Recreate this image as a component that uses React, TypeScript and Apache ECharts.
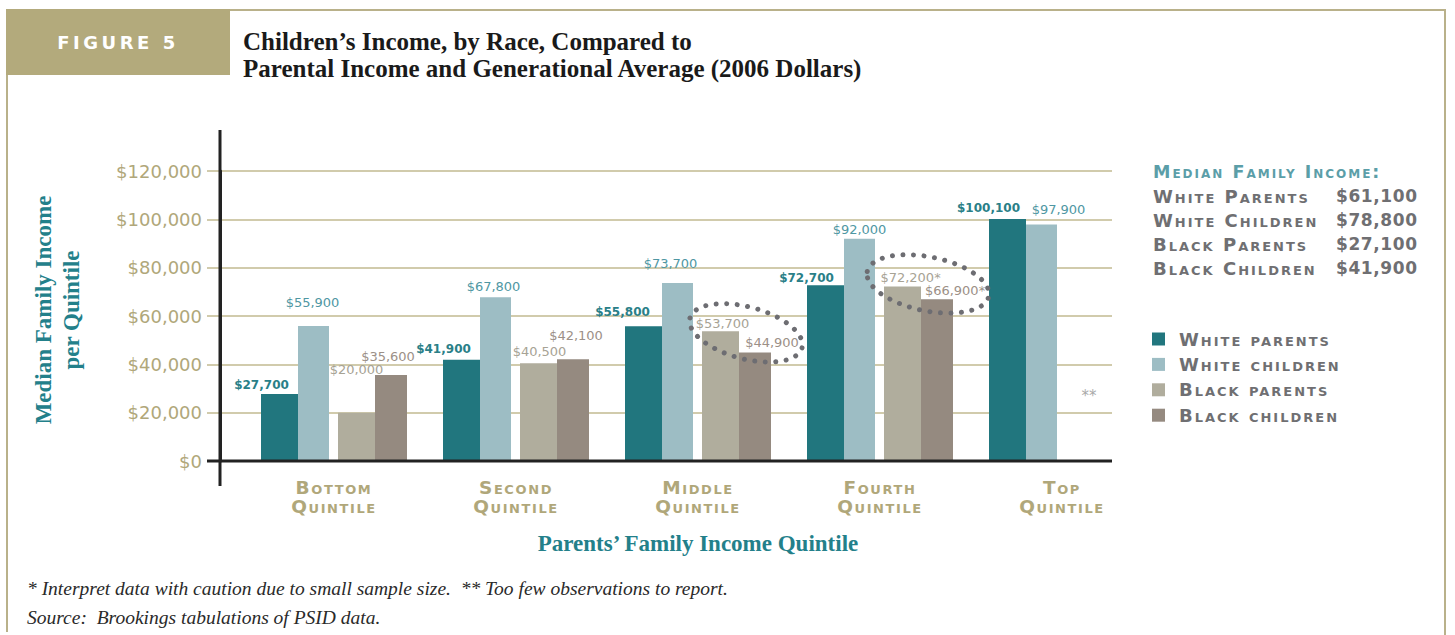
import React, { useEffect, useRef } from "react";
import * as echarts from "echarts";

// ---------- data ----------
const categories = ["Bottom\nQuintile", "Second\nQuintile", "Middle\nQuintile", "Fourth\nQuintile", "Top\nQuintile"];
const seriesNames = ["White parents", "White children", "Black parents", "Black children"];
const whiteParents = [27700, 41900, 55800, 72700, 100100];
const whiteChildren = [55900, 67800, 73700, 92000, 97900];
const blackParents = [20000, 40500, 53700, 72200, null];
const blackChildren = [35600, 42100, 44900, 66900, null];
const smallSample = [false, false, false, true, false];
const tooFew = [false, false, false, false, true];
const medianGroups = ["White Parents", "White Children", "Black Parents", "Black Children"];
const medianValues = [61100, 78800, 27100, 41900];
const yMin = 0;
const yMax = 120000;
const yStep = 20000;

// ---------- styling ----------
const C_WP = "#21767e";
const C_WC = "#9dbdc4";
const C_BP = "#b0ad9d";
const C_BC = "#958a80";
const TAN = "#b0a77a";
const GRIDC = "#c2ba90";
const FRAME = "#b9b18a";
const TEAL_T = "#23808a";
const GRAY_T = "#6f6f72";

// label offsets [dx, dy] per bar (hand-placed labels in the original)
const wpOff = [[-18, 2], [-18, 0], [-21, -3], [-19, 4], [-19, 0]];
const wcOff = [[-1, -12], [-2, 1], [-7, -8], [0, 2], [17, -3]];
const bpOff = [[0, -32], [1, 0], [2, 4], [8, 2], [0, 0]];
const bcOff = [[-3, -7], [3, -12], [17, 2], [18, 3], [0, 0]];

const fmt = (v: number) => "$" + String(v).replace(/\B(?=(\d{3})+(?!\d))/g, ",");
const sc = (size: number, weight: string, ls: number) =>
  `small-caps ${weight} ${size}px 'DejaVu Sans';letter-spacing:${ls}px`;

export default function App() {
  const ref = useRef<HTMLDivElement>(null);
  useEffect(() => {
    const chart = echarts.init(ref.current!, null, { renderer: "svg" });

    const mk = (
      name: string,
      values: (number | null)[],
      color: string,
      width: number,
      offs: number[][],
      labelColor: string,
      bold: boolean,
      flags?: boolean[]
    ) => ({
      name,
      type: "bar",
      xAxisIndex: 1,
      yAxisIndex: 1,
      barWidth: width,
      barGap: "0%",
      itemStyle: { color },
      data: values.map((v, i) => (v == null ? null : { value: v, label: { offset: offs[i] } })),
      label: {
        show: true,
        position: "top",
        distance: 5,
        color: labelColor,
        fontFamily: "DejaVu Sans",
        fontSize: bold ? 12 : 13,
        fontWeight: bold ? "bold" : "normal",
        formatter: (p: any) => fmt(p.value) + (flags && flags[p.dataIndex] ? "*" : ""),
      },
    });

    const footStyle = { fontFamily: "Liberation Serif", fontStyle: "italic", fontWeight: "normal", fontSize: 19.5, color: "#2a2a2a" };

    const option: any = {
      animation: false,
      backgroundColor: "#ffffff",
      title: [
        {
          text: "Children\u2019s Income, by Race, Compared to\nParental Income and Generational Average (2006 Dollars)",
          left: 243,
          top: 28,
          padding: 0,
          textStyle: { fontFamily: "Liberation Serif", fontWeight: "bold", fontSize: 25, lineHeight: 27, color: "#1a1a1a" },
        },
        {
          text: "* Interpret data with caution due to small sample size.  ** Too few observations to report.",
          left: 27,
          top: 578,
          padding: 0,
          textStyle: footStyle,
        },
        {
          text: "Source:  Brookings tabulations of PSID data.",
          left: 27,
          top: 607,
          padding: 0,
          textStyle: footStyle,
        },
      ],
      grid: [
        { left: 220, top: 171, width: 892, height: 290 },
        { left: 243, top: 171, width: 910, height: 290 },
      ],
      xAxis: [
        { type: "value", gridIndex: 0, min: 0, max: 1, show: false },
        {
          type: "category",
          gridIndex: 1,
          data: categories,
          axisLine: { show: false },
          axisTick: { show: false },
          axisLabel: { show: false },
          name: "Parents\u2019 Family Income Quintile",
          nameLocation: "middle",
          nameGap: 71,
          nameTextStyle: { fontFamily: "Liberation Serif", fontWeight: "bold", fontSize: 23, color: TEAL_T },
        },
      ],
      yAxis: [
        {
          type: "value",
          gridIndex: 0,
          min: yMin,
          max: yMax,
          interval: yStep,
          axisLine: { show: true, lineStyle: { color: "#222", width: 3 } },
          axisTick: { show: true, length: 13, lineStyle: { color: GRIDC, width: 1.5 } },
          splitLine: { show: true, lineStyle: { color: GRIDC, width: 1.5 } },
          axisLabel: { color: TAN, fontFamily: "DejaVu Sans", fontSize: 18, margin: 18, formatter: (v: number) => fmt(v) },
          name: "Median Family Income\nper Quintile",
          nameLocation: "middle",
          nameRotate: 90,
          nameGap: 135,
          nameTextStyle: { fontFamily: "Liberation Serif", fontWeight: "bold", fontSize: 23, lineHeight: 28, color: TEAL_T, padding: [0, 0, 0, 12] },
        },
        { type: "value", gridIndex: 1, min: yMin, max: yMax, interval: yStep, show: false },
      ],
      series: [
        mk(seriesNames[0], whiteParents, C_WP, 37, wpOff, "#2a7f88", true),
        mk(seriesNames[1], whiteChildren, C_WC, 31, wcOff, "#4f97a3", false),
        { name: "gap", type: "bar", xAxisIndex: 1, yAxisIndex: 1, barWidth: 9, barGap: "0%", data: [], silent: true },
        mk(seriesNames[2], blackParents, C_BP, 37, bpOff, "#a7a395", false, smallSample),
        mk(seriesNames[3], blackChildren, C_BC, 32, bcOff, "#9c9087", false, smallSample),
      ],
    };
    chart.setOption(option);

    const pt = (i: number, v: number) => chart.convertToPixel({ gridIndex: 1 }, [i, v]) as number[];
    const g: any[] = [];

    // frame
    g.push({ type: "rect", shape: { x: 6, y: 9, width: 224, height: 66 }, style: { fill: "#b3aa7c" }, z: 5 });
    g.push({ type: "line", shape: { x1: 230, y1: 10, x2: 1446, y2: 10 }, style: { stroke: FRAME, lineWidth: 2 }, z: 5 });
    g.push({ type: "line", shape: { x1: 1445, y1: 9, x2: 1445, y2: 635 }, style: { stroke: FRAME, lineWidth: 2 }, z: 5 });
    g.push({ type: "line", shape: { x1: 7, y1: 75, x2: 7, y2: 632 }, style: { stroke: FRAME, lineWidth: 2 }, z: 5 });
    g.push({
      type: "text",
      style: { text: "FIGURE 5", x: 118, y: 42, font: "bold 18px 'DejaVu Sans';letter-spacing:3.5px", fill: "#ffffff", textAlign: "center", textVerticalAlign: "middle" },
      z: 6,
    });

    // axes lines
    const y0 = pt(0, 0)[1];
    g.push({ type: "line", shape: { x1: 220, y1: 130, x2: 220, y2: 486 }, style: { stroke: "#222", lineWidth: 3 }, z: 10 });
    g.push({ type: "line", shape: { x1: 207, y1: y0, x2: 1112, y2: y0 }, style: { stroke: "#222", lineWidth: 3 }, z: 10 });

    // category labels (small caps)
    categories.forEach((c, i) => {
      const x = pt(i, 0)[0];
      g.push({
        type: "text",
        style: { text: c, x, y: y0 + 36, font: sc(18.5, "bold", 1.6), lineHeight: 19, fill: TAN, textAlign: "center", textVerticalAlign: "middle" },
        z: 10,
      });
      if (tooFew[i]) {
        g.push({
          type: "text",
          style: { text: "**", x: x + 27, y: y0 - 65, font: "15px 'DejaVu Sans'", fill: "#a9a9a9", textAlign: "center", textVerticalAlign: "middle" },
          z: 10,
        });
      }
    });

    // dotted ellipses around small-sample labels
    const ell = [
      { i: 2, rx: 58, ry: 26, rot: -0.26 },
      { i: 3, rx: 62, ry: 27, rot: -0.2 },
    ];
    ell.forEach((e) => {
      const avg = ((blackParents[e.i] as number) + (blackChildren[e.i] as number)) / 2;
      const p = pt(e.i, avg);
      g.push({
        type: "ellipse",
        x: p[0] + 48,
        y: p[1] - 9,
        rotation: e.rot,
        shape: { cx: 0, cy: 0, rx: e.rx, ry: e.ry },
        style: { fill: "none", stroke: "#6d6d72", lineWidth: 5, lineDash: [0.01, 10.5], lineCap: "round" },
        z: 20,
      });
    });

    // median family income block
    g.push({
      type: "text",
      style: { text: "Median Family Income:", x: 1153, y: 172, font: sc(17.5, "bold", 2), fill: "#5b9ea8", textAlign: "left", textVerticalAlign: "middle" },
      z: 10,
    });
    medianGroups.forEach((m, i) => {
      const y = 196 + i * 24;
      g.push({
        type: "text",
        style: { text: m, x: 1153, y, font: sc(18, "bold", 2), fill: GRAY_T, textAlign: "left", textVerticalAlign: "middle" },
        z: 10,
      });
      g.push({
        type: "text",
        style: { text: fmt(medianValues[i]), x: 1336, y, font: "bold 17px 'DejaVu Sans';letter-spacing:0.6px", fill: GRAY_T, textAlign: "left", textVerticalAlign: "middle" },
        z: 10,
      });
    });

    // legend
    const legColors = [C_WP, C_WC, C_BP, C_BC];
    seriesNames.forEach((n, i) => {
      const y = 339 + i * 25.4;
      g.push({ type: "rect", shape: { x: 1152, y: y - 6.5, width: 13, height: 13 }, style: { fill: legColors[i] }, z: 10 });
      g.push({
        type: "text",
        style: { text: n, x: 1179, y, font: sc(18, "bold", 2), fill: GRAY_T, textAlign: "left", textVerticalAlign: "middle" },
        z: 10,
      });
    });

    chart.setOption({ graphic: g });
    return () => chart.dispose();
  }, []);
  return <div ref={ref} style={{ position: "fixed", left: 0, top: 0, width: 1455, height: 635, background: "#fff" }} />;
}
